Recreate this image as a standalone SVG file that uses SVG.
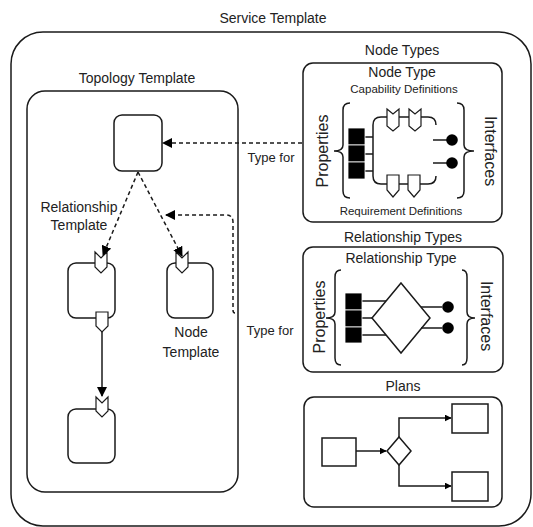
<svg xmlns="http://www.w3.org/2000/svg" width="533" height="527" viewBox="0 0 533 527">
<style>
text{font-family:"Liberation Sans",Arial,sans-serif;fill:#222}
.t14{font-size:14px;text-anchor:middle}
.t13{font-size:13px;text-anchor:middle}
.t11{font-size:11.5px;text-anchor:middle}
.rot{font-size:16px;text-anchor:middle}
.box{fill:#fff;stroke:#1a1a1a;stroke-width:1.5}
.ln{fill:none;stroke:#1a1a1a;stroke-width:1.5}
.dash{fill:none;stroke:#1a1a1a;stroke-width:1.5;stroke-dasharray:4 3}
.blk{fill:#000;stroke:#fff;stroke-width:0.8}
.dot{fill:#000}
.shp{fill:#fff;stroke:#1a1a1a;stroke-width:1.2}
</style>
<defs>
<marker id="ah" viewBox="0 0 10 10" refX="9" refY="5" markerWidth="7" markerHeight="7" orient="auto" markerUnits="userSpaceOnUse">
<path d="M0,0 L10,5 L0,10 z" fill="#000"/>
</marker>
<marker id="ahb" viewBox="0 0 10 10" refX="9" refY="5" markerWidth="10" markerHeight="10" orient="auto" markerUnits="userSpaceOnUse">
<path d="M0,0 L10,5 L0,10 z" fill="#000"/>
</marker>
</defs>

<g id="service-template">
<rect class="box" x="11" y="32" width="520" height="494" rx="32"/>
<text class="t14" x="273" y="23">Service Template</text>
</g>

<g id="topology-template">
<rect class="box" x="27" y="91" width="211" height="401" rx="18"/>
<text class="t14" x="137" y="83">Topology Template</text>
</g>

<g id="node-top">
<rect class="box" x="114" y="115" width="48" height="56" rx="8"/>
</g>
<g id="node-left">
<rect class="box" x="68" y="263" width="47" height="55" rx="8"/>
<path class="shp" d="M95,252 L101,258 L107,252 L107,267 L101,273 L95,267 z"/>
<path class="shp" d="M96,312 L108,312 L108,326 L102,332 L96,326 z"/>
<text class="t14" x="79" y="212">Relationship</text>
<text class="t14" x="79" y="230">Template</text>
</g>
<g id="node-right">
<rect class="box" x="167" y="263" width="46" height="55" rx="8"/>
<path class="shp" d="M176,252 L182,258 L188,252 L188,267 L182,273 L176,267 z"/>
<text class="t14" x="191" y="337">Node</text>
<text class="t14" x="191" y="357">Template</text>
</g>
<g id="node-bottom">
<rect class="box" x="68" y="409" width="47" height="54" rx="8"/>
<path class="shp" d="M96,397 L102,403 L108,397 L108,411 L102,417 L96,411 z"/>
</g>

<g id="node-types">
<text class="t14" x="402" y="55">Node Types</text>
<rect class="box" x="303" y="63" width="199" height="159" rx="10"/>
<text class="t14" x="402" y="77">Node Type</text>
<text class="t11" x="404" y="93">Capability Definitions</text>
<text class="t11" x="401" y="215">Requirement Definitions</text>
<text class="rot" transform="translate(328,151) rotate(-90)">Properties</text>
<text class="rot" transform="translate(485,151) rotate(90)">Interfaces</text>
<path class="ln" d="M350,103 Q343,103 343,110 V145 Q343,151 334,151 Q343,151 343,157 V191 Q343,198 350,198"/>
<path class="ln" d="M457,103 Q464,103 464,110 V145 Q464,151 474,151 Q464,151 464,157 V191 Q464,198 457,198"/>
<path class="ln" d="M436,125 Q436,117 428,117 H381 Q373,117 373,125 V176 Q373,184 381,184 H428 Q436,184 436,176"/>
<path class="ln" d="M365,137 H373 M365,154 H373 M365,171 H373"/>
<rect class="blk" x="348" y="128" width="17" height="17"/>
<rect class="blk" x="348" y="145" width="17" height="17"/>
<rect class="blk" x="348" y="162" width="17" height="17"/>
<path class="shp" d="M387,109 L393,114 L399,109 L399,126 L393,131 L387,126 z"/>
<path class="shp" d="M409,109 L415,114 L421,109 L421,126 L415,131 L409,126 z"/>
<path class="shp" d="M387,175 L399,175 L399,190 L393,197 L387,190 z"/>
<path class="shp" d="M408,175 L420,175 L420,190 L414,197 L408,190 z"/>
<path class="ln" d="M433,140 H447 M433,163 H447"/>
<circle class="dot" cx="452" cy="140" r="5.8"/>
<circle class="dot" cx="452" cy="163" r="5.8"/>
</g>

<g id="relationship-types">
<text class="t14" x="403" y="242">Relationship Types</text>
<rect class="box" x="303" y="247" width="200" height="125" rx="10"/>
<text class="t14" x="401" y="263">Relationship Type</text>
<text class="rot" transform="translate(325,317) rotate(-90)">Properties</text>
<text class="rot" transform="translate(481,316) rotate(90)">Interfaces</text>
<path class="ln" d="M341,270 Q335,270 335,277 V312 Q335,318 326,318 Q335,318 335,324 V358 Q335,365 341,365"/>
<path class="ln" d="M462,270 Q467,270 467,277 V312 Q467,318 475,318 Q467,318 467,324 V358 Q467,365 462,365"/>
<path class="ln" d="M362,301 H386 M362,318 H372 M362,335 H386"/>
<path class="shp" d="M401,283 L430,318 L401,353 L372,318 z" style="stroke-width:1.5"/>
<rect class="blk" x="345" y="293" width="17" height="17"/>
<rect class="blk" x="345" y="310" width="17" height="17"/>
<rect class="blk" x="345" y="327" width="17" height="16"/>
<path class="ln" d="M421,307 H442 M421,328 H442"/>
<circle class="dot" cx="448" cy="307" r="5.8"/>
<circle class="dot" cx="448" cy="328" r="5.8"/>
</g>

<g id="plans">
<text class="t14" x="403" y="391">Plans</text>
<rect class="box" x="304" y="397" width="198" height="110" rx="10"/>
<rect class="box" x="322" y="438" width="34" height="28"/>
<path class="shp" d="M399,437 L411,451 L399,465 L387,451 z" style="stroke-width:1.5"/>
<rect class="box" x="452" y="404" width="36" height="29"/>
<rect class="box" x="452" y="472" width="36" height="29"/>
<path class="ln" d="M356,451 H386" marker-end="url(#ah)"/>
<path class="ln" d="M399,437 V418 H451" marker-end="url(#ah)"/>
<path class="ln" d="M399,465 V486 H451" marker-end="url(#ah)"/>
</g>

<g id="connectors">
<path class="dash" d="M302,143 H163" marker-end="url(#ahb)"/>
<text class="t13" x="271" y="162">Type for</text>
<path class="dash" d="M235,313 Q233,313 233,310 V222 Q233,215 226,215 H166" marker-end="url(#ahb)"/>
<text class="t13" x="270" y="335">Type for</text>
<path class="dash" d="M138,172 L103,255" marker-end="url(#ahb)"/>
<path class="dash" d="M138,172 L182,256" marker-end="url(#ahb)"/>
<path class="ln" d="M102,332 V396" marker-end="url(#ahb)"/>
</g>
</svg>
